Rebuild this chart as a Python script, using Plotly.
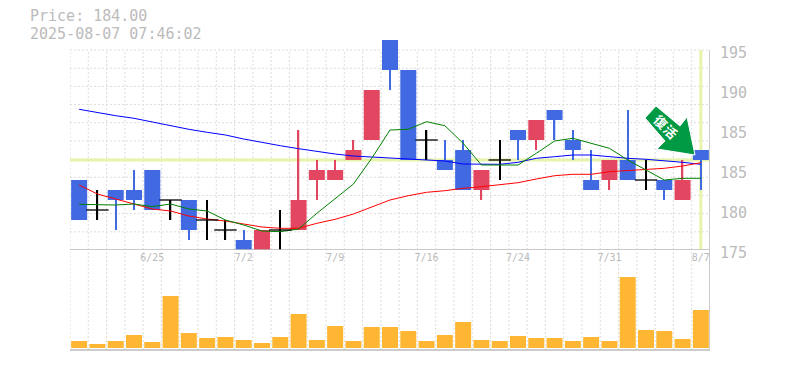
import plotly.graph_objects as go

dates = ["6/19","6/20","6/23","6/24","6/25","6/26","6/27","6/30","7/1","7/2","7/3","7/4","7/7","7/8","7/9","7/10","7/11","7/14",
         "7/15","7/16","7/17","7/18","7/22","7/23","7/24","7/25","7/28","7/29","7/30","7/31","8/1","8/4","8/5","8/6","8/7"]
opens = [182,179,181,181,183,180,180,178,177,176,175,177,177,182,182,184,186,196,193,186,184,185,181,184,187,186,189,186,182,182,184,182,182,180,185]
highs = [182,181,181,183,183,180,180,180,178,177,177,179,187,184,184,186,191,196,193,187,186,186,183,186,187,188,189,187,185,184,189,184,182,184,185]
lows = [178,178,177,179,179,178,176,176,176,175,175,175,177,180,182,184,186,191,184,184,183,181,180,182,184,185,186,184,181,181,182,181,180,180,181]
closes = [178,179,180,180,179,180,177,178,177,175,177,177,180,183,183,185,191,193,184,186,183,181,183,184,186,188,188,185,181,184,182,182,181,182,184]
volumes = [7,4,7,13,6,52,15,10,11,8,5,11,34,8,22,7,21,21,17,7,13,26,8,7,12,10,10,7,11,7,71,18,17,9,38]
ma_short = [179.57,179.57,179.5,179.6,179.33,179.6,179.1,178.9,178,177.5,176.9,176.83,177.1,178.67,180.1,181.6,184.17,187,
            187.07,187.83,187.43,185.67,183.5,183.5,183.5,184.67,185.9,186.17,185.67,185.17,184,183,182,182.17,182.17]
ma_mid = [181.5,180.6,180.1,179.6,179.1,178.9,178.4,178.1,177.9,177.6,177.3,177.17,177.17,177.67,178.07,178.6,179.33,180,
          180.43,180.77,180.93,181.17,181.33,181.5,181.73,182.1,182.43,182.57,182.57,182.83,182.93,183.03,183.17,183.4,183.73]
ma_long = [189.07,188.73,188.43,188.17,187.8,187.43,187.07,186.77,186.5,186.1,185.73,185.43,185.13,184.83,184.6,184.4,184.3,184.23,
           184.1,184,183.9,183.6,183.57,183.57,183.77,184.17,184.33,184.5,184.5,184.33,184.17,184.07,183.93,183.77,183.57]
x_ticks = ["6/25","7/2","7/9","7/16","7/24","7/31","8/7"]
y_ticks = [175,179,183,187,191,195]
y_labels = ["175","180","185","185","190","195"]
current_price = 184.0

RED, BLUE, BLACK, GREY, GRID, HILITE = "#e34660", "#4169e1", "#000000", "#bbbbbb", "#dddddd", "#e6f4ab"
idx = list(range(len(dates)))
BODY_W, WICK_W = 0.875, 0.075

def candle_traces(keep, color):
    sel = [i for i in idx if keep(opens[i], closes[i])]
    wick = go.Bar(x=sel, base=[lows[i] for i in sel], y=[highs[i]-lows[i] for i in sel], width=WICK_W,
                  marker=dict(color=color, line_width=0), yaxis="y", showlegend=False)
    body = go.Bar(x=sel, base=[min(opens[i], closes[i]) for i in sel], y=[abs(opens[i]-closes[i]) for i in sel], width=BODY_W,
                  marker=dict(color=color, line_width=0), yaxis="y", showlegend=False)
    return [wick, body]

fig = go.Figure()
fig.add_trace(go.Bar(x=idx, y=volumes, marker=dict(color="#ffb733", line_width=0), width=BODY_W, yaxis="y2", showlegend=False))
for vals, col in [(ma_long, "#0000ff"), (ma_mid, "#ff0000"), (ma_short, "#008000")]:
    fig.add_trace(go.Scatter(x=idx, y=vals, mode="lines", line=dict(color=col, width=1), yaxis="y", showlegend=False))
fig.add_traces(candle_traces(lambda o, c: c > o, RED))
fig.add_traces(candle_traces(lambda o, c: c < o, BLUE))
doji = [i for i in idx if opens[i] == closes[i]]
fig.add_trace(go.Bar(x=doji, base=[lows[i] for i in doji], y=[highs[i]-lows[i] for i in doji], width=WICK_W,
                     marker=dict(color=BLACK, line_width=0), yaxis="y", showlegend=False))
fig.add_trace(go.Scatter(x=doji, y=[closes[i] for i in doji], mode="markers", yaxis="y", showlegend=False,
                         marker=dict(symbol="line-ew", size=16, line=dict(color=BLACK, width=1.3))))

shapes = []
n = len(dates)
for k in range(12):
    shapes.append(dict(type="line", xref="x", yref="y", x0=-0.5, x1=n-0.5, y0=175+20*k/11, y1=175+20*k/11,
                       line=dict(color=GRID, width=1, dash="2px,2px"), layer="below"))
for i in range(n):
    shapes.append(dict(type="line", xref="x", yref="paper", x0=i-0.5, x1=i-0.5, y0=0, y1=300/310,
                       line=dict(color=GRID, width=1, dash="2px,2px"), layer="below"))
shapes.append(dict(type="line", xref="x", yref="y", x0=-0.5, x1=n-0.5, y0=current_price, y1=current_price,
                   line=dict(color=HILITE, width=3), layer="below"))
shapes.append(dict(type="line", xref="x", yref="y", x0=n-1, x1=n-1, y0=175, y1=195,
                   line=dict(color=HILITE, width=3), layer="below"))
shapes.append(dict(type="line", xref="x", yref="y", x0=-0.5, x1=n-0.5, y0=175, y1=175, line=dict(color=GREY, width=1.5)))
shapes.append(dict(type="line", xref="x", yref="paper", x0=-0.5, x1=n-0.5, y0=0, y1=0, line=dict(color=GREY, width=1.5)))
shapes.append(dict(type="line", xref="x", yref="paper", x0=n-0.5, x1=n-0.5, y0=0, y1=300/310, line=dict(color=GREY, width=1.5)))

def px(xp, yp):
    return f"{(xp-70)/640:.4f} {(350-yp)/310:.4f}"
arrow = [(656,106),(645,118),(665,141),(657,149),(695,155),(687,117),(680,126)]
shapes.append(dict(type="path", xref="paper", yref="paper", fillcolor="#009944", line=dict(color="white", width=1),
                   path="M " + " L ".join(px(*p) for p in arrow) + " Z"))

fig.update_layout(
    width=785, height=370, margin=dict(l=70, r=75, t=40, b=20, pad=0, autoexpand=False),
    paper_bgcolor="white", plot_bgcolor="white", shapes=shapes, bargap=0.125, barmode="overlay",
    xaxis=dict(range=[-0.5, n-0.5], showgrid=False, zeroline=False, showline=False,
               tickmode="array", tickvals=[dates.index(d) for d in x_ticks], ticktext=x_ticks, ticks="",
               tickfont=dict(family="DejaVu Sans Mono", size=10, color=GREY), anchor="y"),
    yaxis=dict(domain=[100/310, 1], range=[175, 196], side="right", showgrid=False, zeroline=False, showline=False,
               tickmode="array", tickvals=y_ticks, ticktext=y_labels, ticks="", ticklabelshift=3, ticklabelstandoff=9,
               tickfont=dict(family="DejaVu Sans Mono", size=15, color=GREY)),
    yaxis2=dict(domain=[0, 100/310], range=[-2, 98], showgrid=False, zeroline=False, showline=False, showticklabels=False, anchor="x"),
    annotations=[
        dict(xref="paper", yref="paper", x=-42/640, y=(350-16)/310, text=f"Price: {current_price:.2f}", showarrow=False,
             xanchor="left", yanchor="middle", font=dict(family="DejaVu Sans Mono", size=15, color=GREY)),
        dict(xref="paper", yref="paper", x=-42/640, y=(350-34)/310, text="2025-08-07 07:46:02", showarrow=False,
             xanchor="left", yanchor="middle", font=dict(family="DejaVu Sans Mono", size=15, color=GREY)),
        dict(xref="paper", yref="paper", x=(666-70)/640, y=(350-126)/310, text="<b>復\u200a活</b>", showarrow=False, textangle=45,
             xanchor="center", yanchor="middle", font=dict(family="Noto Sans CJK JP", size=13, color="white")),
    ],
)
fig.write_html("out.html", config=dict(displayModeBar=False),
               post_script="document.body.style.margin='0';document.body.style.overflow='hidden';")
